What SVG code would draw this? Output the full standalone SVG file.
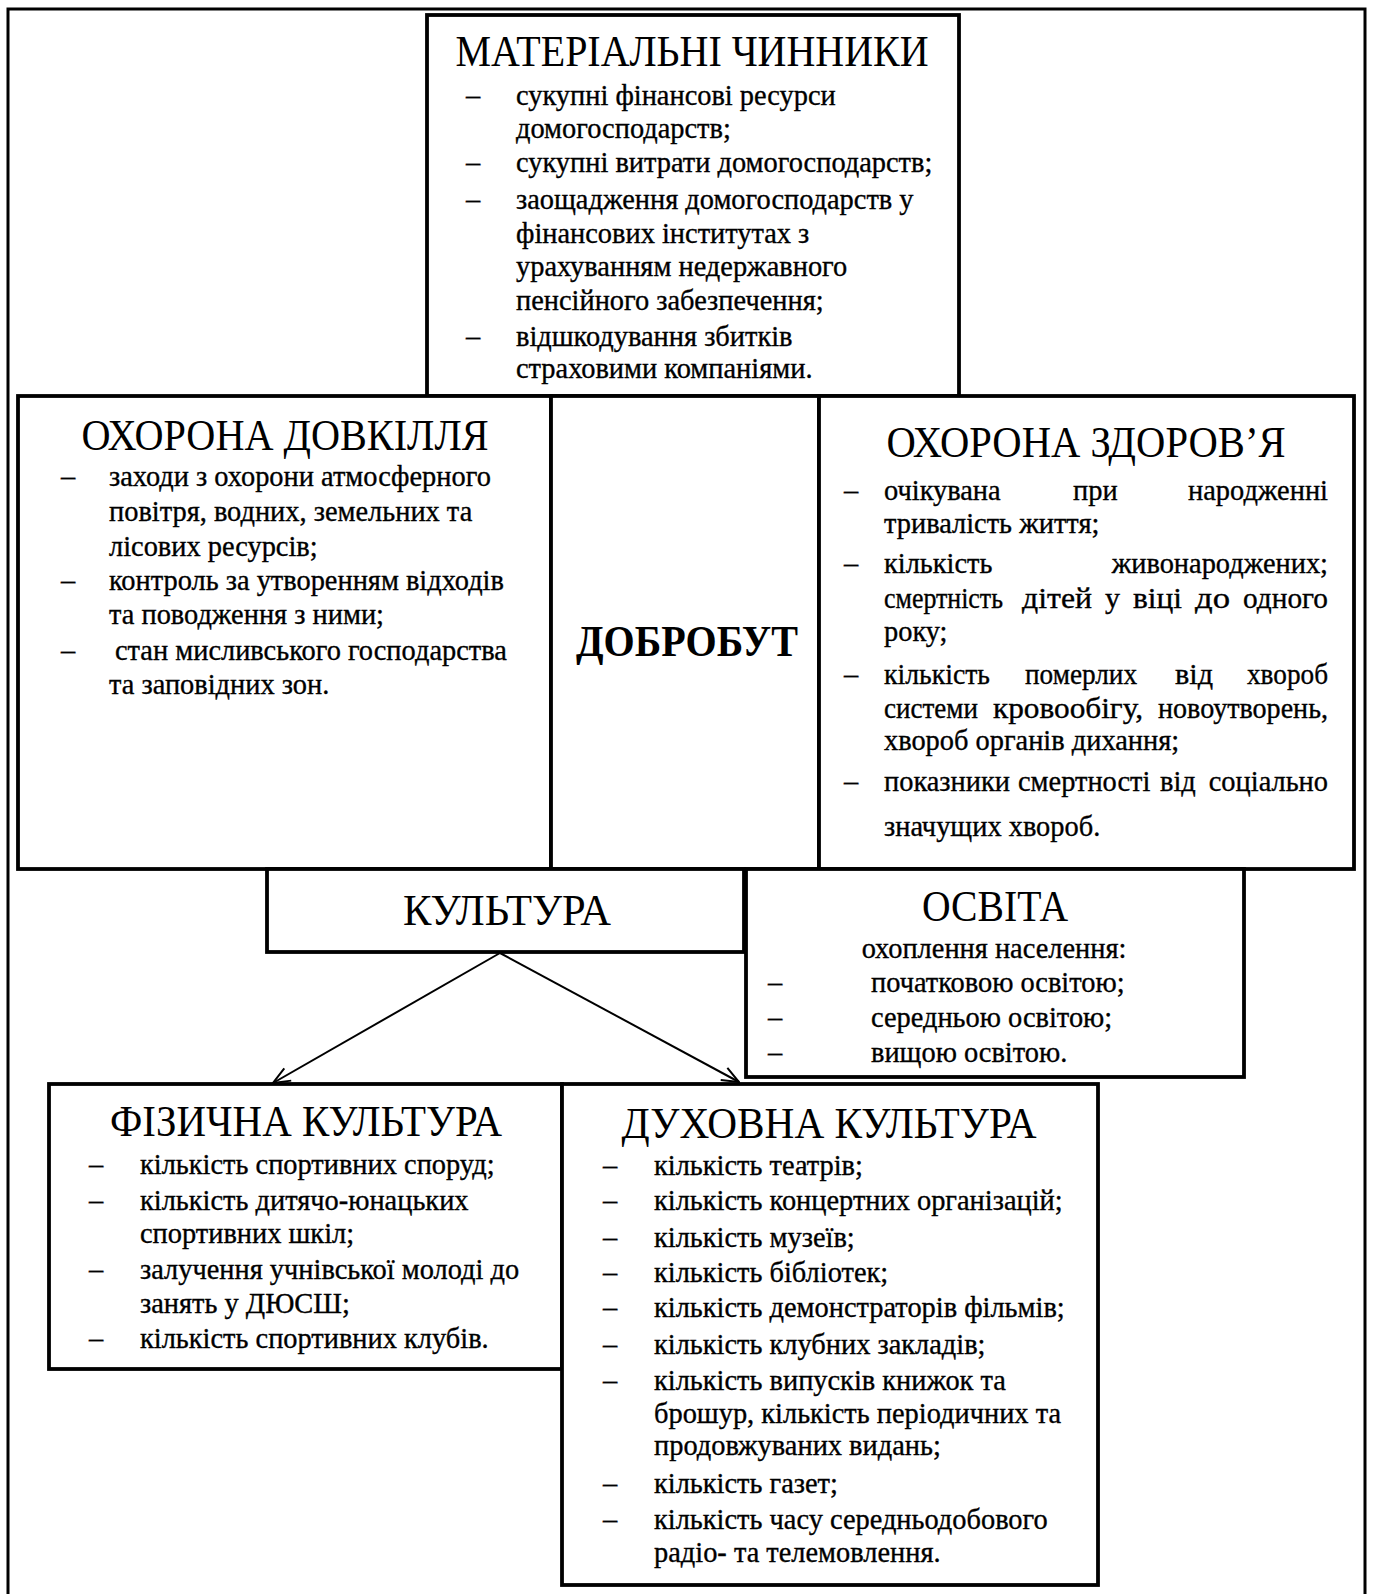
<svg xmlns="http://www.w3.org/2000/svg" width="1373" height="1594" viewBox="0 0 1373 1594">
<style>
.box{fill:#fff;stroke:#000;stroke-width:3.8}
.frame{fill:none;stroke:#000;stroke-width:3}
.t{font-family:"Liberation Serif","Times New Roman",serif;fill:#000}
.ttl{font-size:44px;text-anchor:middle}
.b{font-size:28.4px;stroke:#000;stroke-width:0.35}
.e{text-anchor:end}
.bold{font-weight:bold}
.con{fill:none;stroke:#000;stroke-width:2}
</style>
<defs>
<marker id="arr" viewBox="0 0 20 20" refX="19" refY="10" markerWidth="20" markerHeight="20" markerUnits="userSpaceOnUse" orient="auto">
<path d="M2,3 L19,10 L2,17" fill="none" stroke="#000" stroke-width="2"/>
</marker>
</defs>
<rect class="frame" x="8" y="9" width="1357" height="1620"/>

<g id="materialni">
<rect class="box" x="427" y="15" width="532" height="381"/>
<text class="t ttl" x="692" y="66" textLength="473" lengthAdjust="spacingAndGlyphs">МАТЕРІАЛЬНІ ЧИННИКИ</text>
<text class="t b" x="466" y="105">–</text><text class="t b" x="516" y="105">сукупні фінансові ресурси</text>
<text class="t b" x="516" y="138">домогосподарств;</text>
<text class="t b" x="466" y="172">–</text><text class="t b" x="516" y="172">сукупні витрати домогосподарств;</text>
<text class="t b" x="466" y="209">–</text><text class="t b" x="516" y="209">заощадження домогосподарств у</text>
<text class="t b" x="516" y="243">фінансових інститутах з</text>
<text class="t b" x="516" y="276">урахуванням недержавного</text>
<text class="t b" x="516" y="310">пенсійного забезпечення;</text>
<text class="t b" x="466" y="346">–</text><text class="t b" x="516" y="346">відшкодування збитків</text>
<text class="t b" x="516" y="378">страховими компаніями.</text>
</g>

<g id="dovkillia">
<rect class="box" x="18" y="396" width="533" height="473"/>
<text class="t ttl" x="285" y="450" textLength="407" lengthAdjust="spacingAndGlyphs">ОХОРОНА ДОВКІЛЛЯ</text>
<text class="t b" x="61" y="486">–</text><text class="t b" x="109" y="486">заходи з охорони атмосферного</text>
<text class="t b" x="109" y="521">повітря, водних, земельних та</text>
<text class="t b" x="109" y="556">лісових ресурсів;</text>
<text class="t b" x="61" y="590">–</text><text class="t b" x="109" y="590">контроль за утворенням відходів</text>
<text class="t b" x="109" y="624">та поводження з ними;</text>
<text class="t b" x="61" y="660">–</text><text class="t b" x="115" y="660">стан мисливського господарства</text>
<text class="t b" x="109" y="694">та заповідних зон.</text>
</g>

<g id="dobrobut">
<rect class="box" x="551" y="396" width="268" height="473"/>
<text class="t ttl bold" x="687" y="656" textLength="222" lengthAdjust="spacingAndGlyphs">ДОБРОБУТ</text>
</g>

<g id="zdorovia">
<rect class="box" x="819" y="396" width="535" height="473"/>
<text class="t ttl" x="1086" y="457" textLength="399" lengthAdjust="spacingAndGlyphs">ОХОРОНА ЗДОРОВ’Я</text>
<text class="t b" x="844" y="500">–</text>
<text class="t b" x="884" y="500">очікувана</text><text class="t b" x="1073" y="500">при</text><text class="t b e" x="1328" y="500">народженні</text>
<text class="t b" x="884" y="533">тривалість життя;</text>
<text class="t b" x="844" y="573">–</text>
<text class="t b" x="884" y="573">кількість</text><text class="t b e" x="1328" y="573">живонароджених;</text>
<text class="t b" x="884" y="608" textLength="119" lengthAdjust="spacingAndGlyphs">смертність</text><text class="t b" x="1022" y="608" textLength="70" lengthAdjust="spacingAndGlyphs">дітей</text><text class="t b" x="1105" y="608" textLength="15" lengthAdjust="spacingAndGlyphs">у</text><text class="t b" x="1133" y="608" textLength="49" lengthAdjust="spacingAndGlyphs">віці</text><text class="t b" x="1195" y="608" textLength="35" lengthAdjust="spacingAndGlyphs">до</text><text class="t b" x="1243" y="608" textLength="85" lengthAdjust="spacingAndGlyphs">одного</text>
<text class="t b" x="884" y="641">року;</text>
<text class="t b" x="844" y="684">–</text>
<text class="t b" x="884" y="684" textLength="106" lengthAdjust="spacingAndGlyphs">кількість</text><text class="t b" x="1025" y="684" textLength="112" lengthAdjust="spacingAndGlyphs">померлих</text><text class="t b" x="1175" y="684" textLength="38" lengthAdjust="spacingAndGlyphs">від</text><text class="t b" x="1247" y="684" textLength="81" lengthAdjust="spacingAndGlyphs">хвороб</text>
<text class="t b" x="884" y="718" textLength="94" lengthAdjust="spacingAndGlyphs">системи</text><text class="t b" x="993" y="718" textLength="150" lengthAdjust="spacingAndGlyphs">кровообігу,</text><text class="t b" x="1158" y="718" textLength="170" lengthAdjust="spacingAndGlyphs">новоутворень,</text>
<text class="t b" x="884" y="750">хвороб органів дихання;</text>
<text class="t b" x="844" y="791">–</text>
<text class="t b" x="884" y="791">показники</text><text class="t b" x="1018" y="791">смертності</text><text class="t b" x="1160" y="791">від</text><text class="t b e" x="1328" y="791">соціально</text>
<text class="t b" x="884" y="836">значущих хвороб.</text>
</g>

<g id="kultura">
<rect class="box" x="267" y="869" width="477" height="83"/>
<text class="t ttl" x="507" y="925" textLength="208" lengthAdjust="spacingAndGlyphs">КУЛЬТУРА</text>
</g>

<g id="osvita">
<rect class="box" x="746" y="869" width="498" height="208"/>
<text class="t ttl" x="995" y="921" textLength="146" lengthAdjust="spacingAndGlyphs">ОСВІТА</text>
<text class="t b" x="994" y="958" text-anchor="middle">охоплення населення:</text>
<text class="t b" x="768" y="992">–</text><text class="t b" x="871" y="992">початковою освітою;</text>
<text class="t b" x="768" y="1027">–</text><text class="t b" x="871" y="1027">середньою освітою;</text>
<text class="t b" x="768" y="1062">–</text><text class="t b" x="871" y="1062">вищою освітою.</text>
</g>

<g id="fizychna">
<rect class="box" x="49" y="1084" width="513" height="285"/>
<text class="t ttl" x="306" y="1136" textLength="392" lengthAdjust="spacingAndGlyphs">ФІЗИЧНА КУЛЬТУРА</text>
<text class="t b" x="89" y="1174">–</text><text class="t b" x="140" y="1174">кількість спортивних споруд;</text>
<text class="t b" x="89" y="1210">–</text><text class="t b" x="140" y="1210">кількість дитячо-юнацьких</text>
<text class="t b" x="140" y="1243">спортивних шкіл;</text>
<text class="t b" x="89" y="1279">–</text><text class="t b" x="140" y="1279">залучення учнівської молоді до</text>
<text class="t b" x="140" y="1313">занять у ДЮСШ;</text>
<text class="t b" x="89" y="1348">–</text><text class="t b" x="140" y="1348">кількість спортивних клубів.</text>
</g>

<g id="dukhovna">
<rect class="box" x="562" y="1084" width="536" height="501"/>
<text class="t ttl" x="829" y="1138" textLength="415" lengthAdjust="spacingAndGlyphs">ДУХОВНА КУЛЬТУРА</text>
<text class="t b" x="603" y="1175">–</text><text class="t b" x="654" y="1175">кількість театрів;</text>
<text class="t b" x="603" y="1210">–</text><text class="t b" x="654" y="1210">кількість концертних організацій;</text>
<text class="t b" x="603" y="1247">–</text><text class="t b" x="654" y="1247">кількість музеїв;</text>
<text class="t b" x="603" y="1282">–</text><text class="t b" x="654" y="1282">кількість бібліотек;</text>
<text class="t b" x="603" y="1317">–</text><text class="t b" x="654" y="1317">кількість демонстраторів фільмів;</text>
<text class="t b" x="603" y="1354">–</text><text class="t b" x="654" y="1354">кількість клубних закладів;</text>
<text class="t b" x="603" y="1390">–</text><text class="t b" x="654" y="1390">кількість випусків книжок та</text>
<text class="t b" x="654" y="1423">брошур, кількість періодичних та</text>
<text class="t b" x="654" y="1455">продовжуваних видань;</text>
<text class="t b" x="603" y="1493">–</text><text class="t b" x="654" y="1493">кількість газет;</text>
<text class="t b" x="603" y="1529">–</text><text class="t b" x="654" y="1529">кількість часу середньодобового</text>
<text class="t b" x="654" y="1562">радіо- та телемовлення.</text>
</g>

<g id="connectors">
<line class="con" x1="500" y1="953" x2="273" y2="1083" marker-end="url(#arr)"/>
<line class="con" x1="500" y1="953" x2="739" y2="1082" marker-end="url(#arr)"/>
</g>
</svg>
